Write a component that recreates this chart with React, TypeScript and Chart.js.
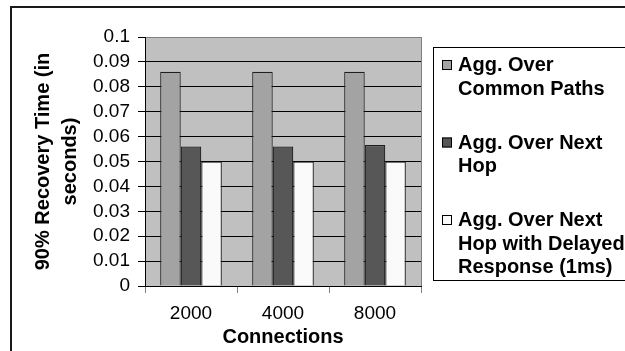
import { useEffect, useRef } from 'react';
import { Chart, registerables } from 'chart.js';

Chart.register(...registerables);

const categories = ['2000', '4000', '8000'];
const seriesNames = [
  'Agg. Over Common Paths',
  'Agg. Over Next Hop',
  'Agg. Over Next Hop with Delayed Response (1ms)',
];
const legendLines = [
  ['Agg. Over', 'Common Paths'],
  ['Agg. Over Next', 'Hop'],
  ['Agg. Over Next', 'Hop with Delayed', 'Response (1ms)'],
];
const commonPaths = [0.086, 0.086, 0.086];
const nextHop = [0.056, 0.056, 0.0566];
const delayedResponse = [0.05, 0.05, 0.05];
const seriesColors = ['#a3a3a3', '#575757', '#fafafa'];
const yMin = 0;
const yMax = 0.1;
const yStep = 0.01;
const yTitle = ['90% Recovery Time (in', 'seconds)'];
const xTitle = 'Connections';

const FONT = "'Liberation Sans', Arial, Helvetica, sans-serif";

const decorPlugin = {
  id: 'decor',
  beforeDraw(chart: any) {
    const { ctx, chartArea } = chart;
    ctx.save();
    ctx.fillStyle = '#ffffff';
    ctx.fillRect(0, 0, chart.width, chart.height);
    ctx.fillStyle = '#c0c0c0';
    ctx.fillRect(chartArea.left, chartArea.top, chartArea.right - chartArea.left, chartArea.bottom - chartArea.top);
    ctx.restore();
  },
  afterDraw(chart: any) {
    const { ctx, chartArea } = chart;
    ctx.save();
    // plot area right border (gray)
    ctx.strokeStyle = '#808080';
    ctx.lineWidth = 1;
    ctx.beginPath();
    ctx.moveTo(Math.round(chartArea.right) + 0.5, chartArea.top);
    ctx.lineTo(Math.round(chartArea.right) + 0.5, chartArea.bottom);
    ctx.stroke();
    // outer frame
    ctx.strokeStyle = '#1a1a1a';
    ctx.lineWidth = 2;
    ctx.beginPath();
    ctx.moveTo(11, chart.height + 2);
    ctx.lineTo(11, 7);
    ctx.lineTo(chart.width + 2, 7);
    ctx.stroke();
    // legend box
    const boxLeft = chartArea.right + 12;
    ctx.strokeStyle = '#000000';
    ctx.lineWidth = 1;
    ctx.strokeRect(Math.round(boxLeft) + 0.5, 47.5, 220, 233);
    ctx.font = 'bold 20px ' + FONT;
    ctx.textBaseline = 'alphabetic';
    ctx.textAlign = 'left';
    const lineStep = 23.5;
    let y = 71;
    chart.data.datasets.forEach((ds: any, i: number) => {
      const lines = legendLines[i] || [ds.label];
      ctx.fillStyle = ds.backgroundColor;
      ctx.fillRect(boxLeft + 9, y - 11, 10, 10);
      ctx.strokeStyle = '#000000';
      ctx.strokeRect(boxLeft + 9.5, y - 10.5, 9, 9);
      ctx.fillStyle = '#000000';
      lines.forEach((ln: string, j: number) => {
        ctx.fillText(ln, boxLeft + 25, y + j * lineStep);
      });
      y += lines.length * lineStep + 30.5;
    });
    ctx.restore();
  },
};

export default function App() {
  const ref = useRef<HTMLCanvasElement | null>(null);
  useEffect(() => {
    document.body.style.margin = '0';
    const canvas = ref.current;
    if (!canvas) return;
    const chart = new Chart(canvas, {
      type: 'bar',
      data: {
        labels: categories,
        datasets: [
          { label: seriesNames[0], data: commonPaths, backgroundColor: seriesColors[0] },
          { label: seriesNames[1], data: nextHop, backgroundColor: seriesColors[1] },
          { label: seriesNames[2], data: delayedResponse, backgroundColor: seriesColors[2] },
        ].map((d) => ({
          ...d,
          borderColor: '#1e1e1e',
          borderWidth: 1.2,
          categoryPercentage: 0.67,
          barPercentage: 1.0,
        })),
      },
      options: {
        responsive: false,
        animation: false,
        devicePixelRatio: 1,
        layout: { padding: { top: 37, right: 204, bottom: 0, left: 0 } },
        plugins: {
          legend: { display: false },
          tooltip: { enabled: false },
          title: { display: false },
        },
        scales: {
          x: {
            offset: true,
            grid: {
              display: true,
              drawOnChartArea: false,
              drawTicks: true,
              tickLength: 7,
              color: '#808080',
              offset: true,
            },
            border: { display: true, color: '#000000', width: 1 },
            ticks: {
              color: '#000000',
              padding: 9,
              font: { family: FONT, size: 19 },
              maxRotation: 0,
            },
            title: {
              display: true,
              text: xTitle,
              color: '#000000',
              font: { family: FONT, size: 20, weight: 'bold' },
              padding: { top: 0, bottom: 2 },
            },
            afterFit(scale: any) {
              scale.height = 65;
            },
          },
          y: {
            min: yMin,
            max: yMax,
            grid: {
              color: (c: any) => (c.index === 10 ? '#808080' : '#000000'),
              tickColor: '#000000',
              lineWidth: 1,
              tickLength: 7,
            },
            border: { display: true, color: '#000000', width: 1 },
            ticks: {
              stepSize: yStep,
              autoSkip: false,
              color: '#000000',
              padding: 8,
              font: { family: FONT, size: 19 },
              callback: (v: any) => String(Number(Number(v).toFixed(2))),
            },
            title: {
              display: true,
              text: yTitle,
              color: '#000000',
              font: { family: FONT, size: 20, weight: 'bold', lineHeight: 1.35 },
              padding: { top: 29.5, bottom: 0 },
            },
            afterFit(scale: any) {
              scale.width = 145;
            },
          },
        },
      },
      plugins: [decorPlugin],
    } as any);
    return () => chart.destroy();
  }, []);
  return <canvas ref={ref} width={625} height={351} style={{ display: 'block' }} />;
}
